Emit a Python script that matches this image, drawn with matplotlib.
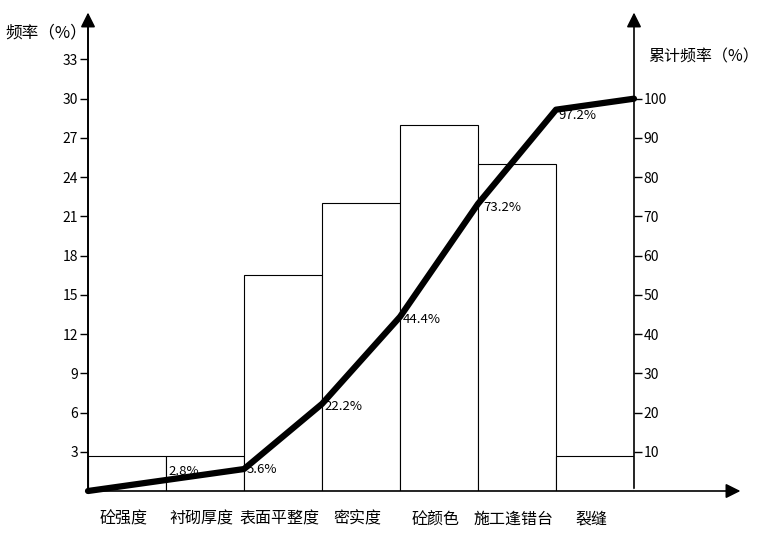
import numpy as np
import matplotlib
matplotlib.use('Agg')
from matplotlib import pyplot as plt

plt.rcParams['font.family'] = ['Noto Sans CJK SC', 'DejaVu Sans']

categories = ['砼强度', '衬砌厚度', '表面平整度', '密实度', '砼颜色', '施工逢错台', '裂缝']
freq = [2.7, 2.7, 16.5, 22.0, 28.0, 25.0, 2.7]          # left axis, %
cum = [0, 2.8, 5.6, 22.2, 44.4, 73.2, 97.2, 100]        # right axis, %
cum_labels = ['2.8%', '5.6%', '22.2%', '44.4%', '73.2%', '97.2%']
left_ticks = [3, 6, 9, 12, 15, 18, 21, 24, 27, 30, 33]
right_ticks = [10, 20, 30, 40, 50, 60, 70, 80, 90, 100]

fig = plt.figure(figsize=(7.6, 5.34), dpi=100)
ax = fig.add_axes([88/760, 43/534, (634-88)/760, (491-15)/534])
ymax = 36.4
ax.set_xlim(0, 7)
ax.set_ylim(0, ymax)

x = np.arange(len(categories))
ax.bar(x, freq, width=1, align='edge', facecolor='white', edgecolor='black', linewidth=0.8)

for s in ['top', 'right', 'bottom']:
    ax.spines[s].set_visible(False)
ax.spines['left'].set_linewidth(1.2)
ax.set_yticks(left_ticks)
ax.tick_params(axis='y', direction='out', length=6, width=1, labelsize=10, pad=1)
ax.set_xticks(x + 0.45)
ax.set_xticklabels(categories, fontsize=11.5)
ax.tick_params(axis='x', length=0, pad=14)

# axis arrows
ax.annotate('', xy=(0, ymax + 0.4), xytext=(0, 0), xycoords='data',
            arrowprops=dict(arrowstyle='-|>', color='black', lw=1.2, mutation_scale=22), annotation_clip=False)
ax.annotate('', xy=(8.4, 0), xytext=(0, 0), xycoords='data',
            arrowprops=dict(arrowstyle='-|>', color='black', lw=1.2, mutation_scale=22), annotation_clip=False)
ax.annotate('', xy=(7, ymax + 0.4), xytext=(7, 0), xycoords='data',
            arrowprops=dict(arrowstyle='-|>', color='black', lw=1.2, mutation_scale=22), annotation_clip=False)

ax2 = ax.twinx()
ax2.set_ylim(0, ymax * 100 / 30)
for s in ['top', 'left', 'bottom', 'right']:
    ax2.spines[s].set_visible(False)
ax2.set_yticks(right_ticks)
ax2.tick_params(axis='y', direction='out', length=6, width=1, labelsize=10, pad=1)

xs = np.arange(len(cum))
ax2.plot(xs, cum, color='black', lw=4.5, solid_capstyle='round', solid_joinstyle='round', clip_on=False)
offs = [(2, 6), (2, 0), (2, -2), (2, -2), (4, -3), (2, -4)]
for i, lab in enumerate(cum_labels):
    ax2.annotate(lab, xy=(xs[i+1], cum[i+1]), xytext=offs[i], textcoords='offset points',
                 fontsize=9.5, ha='left', va='center')

fig.text(5/760, 1 - 33/534, '频率（%）', fontsize=12, va='center', ha='left')
fig.text(648/760, 1 - 57/534, '累计频率（%）', fontsize=11.5, va='center', ha='left')

fig.savefig('out.png', dpi=100)
